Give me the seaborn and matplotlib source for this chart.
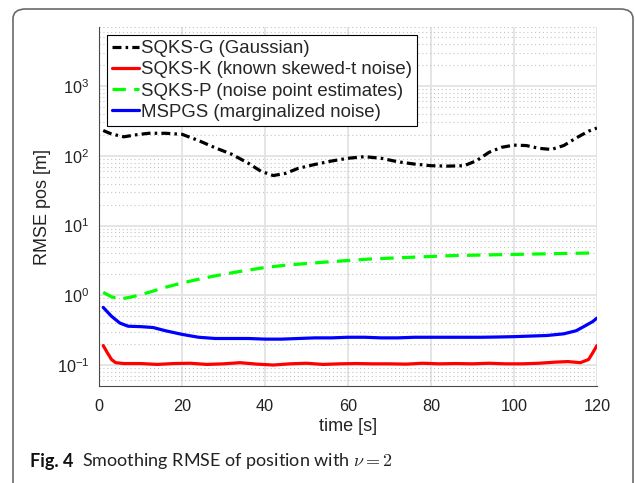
import numpy as np
import pandas as pd
import matplotlib
matplotlib.use("Agg")
import matplotlib.pyplot as plt
import seaborn as sns
from matplotlib.patches import FancyBboxPatch
from matplotlib.ticker import LogLocator, NullFormatter

# Values
t_g = [1, 3, 6, 9, 12, 16, 20, 24, 28, 32, 36, 39, 42, 45, 48, 52, 56, 60, 64, 68,
       72, 76, 80, 84, 88, 91, 94, 97, 100, 103, 106, 109, 112, 115, 118, 120]
rmse_g = [230, 205, 187, 200, 210, 210, 203, 165, 130, 105, 78, 60, 52, 56, 66, 75, 84, 92, 97, 92,
          82, 76, 72, 71, 72, 85, 112, 132, 142, 140, 128, 123, 140, 180, 225, 250]

t_k = [1, 2, 3, 4, 6, 10, 14, 18, 22, 26, 30, 34, 38, 42, 46, 50, 54, 58, 62, 66,
       70, 74, 78, 82, 86, 90, 94, 98, 102, 106, 110, 113, 116, 118, 119, 120]
rmse_k = [0.19, 0.15, 0.12, 0.108, 0.105, 0.105, 0.102, 0.105, 0.106, 0.102, 0.104, 0.108, 0.103, 0.1,
          0.104, 0.106, 0.102, 0.104, 0.105, 0.104, 0.104, 0.103, 0.106, 0.104, 0.105, 0.104, 0.106,
          0.104, 0.104, 0.106, 0.11, 0.112, 0.108, 0.12, 0.15, 0.19]

t_p = [1, 3, 5, 8, 12, 16, 20, 25, 30, 35, 40, 45, 50, 55, 60, 65, 70, 75, 80, 85,
       90, 95, 100, 105, 110, 115, 120]
rmse_p = [1.1, 0.95, 0.88, 0.95, 1.1, 1.3, 1.5, 1.75, 2.0, 2.25, 2.5, 2.7, 2.85, 3.0, 3.15, 3.3,
          3.4, 3.5, 3.6, 3.7, 3.75, 3.8, 3.85, 3.9, 3.95, 4.0, 4.05]

t_m = [1, 3, 5, 7, 10, 13, 16, 20, 24, 28, 32, 36, 40, 44, 48, 52, 56, 60, 64, 68,
       72, 76, 80, 84, 88, 92, 96, 100, 104, 108, 112, 115, 117, 119, 120]
rmse_m = [0.67, 0.5, 0.4, 0.36, 0.355, 0.345, 0.31, 0.275, 0.25, 0.24, 0.24, 0.24, 0.235, 0.235,
          0.24, 0.245, 0.245, 0.25, 0.25, 0.245, 0.245, 0.25, 0.25, 0.25, 0.25, 0.25, 0.252, 0.255,
          0.26, 0.265, 0.28, 0.31, 0.36, 0.42, 0.47]

labels = ['SQKS-G (Gaussian)', 'SQKS-K (known skewed-t noise)',
          'SQKS-P (noise point estimates)', 'MSPGS (marginalized noise)']

sns.set_style("white")
plt.rcParams['font.family'] = ['Liberation Sans', 'DejaVu Sans']
plt.rcParams['mathtext.fontset'] = 'custom'
plt.rcParams['mathtext.rm'] = 'Liberation Sans'
plt.rcParams['mathtext.it'] = 'Liberation Sans:italic'

fig = plt.figure(figsize=(6.35, 4.83), dpi=100)
ax = fig.add_axes([0.156, 0.2008, 0.784, 0.7432])

# frame around the figure like the journal layout
box = FancyBboxPatch((13 / 635, -0.05), 620 / 635, 1 - 9 / 483 + 0.05,
                     boxstyle="round,pad=0,rounding_size=0.02",
                     transform=fig.transFigure, fill=False,
                     edgecolor='#6a6a6a', linewidth=1.2)
fig.patches.append(box)

lw = 2.3
sns.lineplot(x=t_g, y=rmse_g, ax=ax, color='black', lw=lw, label=labels[0],
             linestyle=(0, (2.8, 1.3, 0.8, 1.3)))
sns.lineplot(x=t_k, y=rmse_k, ax=ax, color='#ff0000', lw=lw, label=labels[1])
sns.lineplot(x=t_p, y=rmse_p, ax=ax, color='#00ff00', lw=lw, label=labels[2],
             linestyle=(0, (4.2, 2.6)))
sns.lineplot(x=t_m, y=rmse_m, ax=ax, color='#0000ff', lw=lw, label=labels[3])

ax.set_yscale('log')
ax.set_xlim(0, 120)
ax.set_ylim(0.05, 7000)
ax.set_xticks([0, 20, 40, 60, 80, 100, 120])
ax.yaxis.set_major_locator(LogLocator(base=10, numticks=10))
ax.yaxis.set_minor_locator(LogLocator(base=10, subs=np.arange(2, 10), numticks=20))
ax.yaxis.set_minor_formatter(NullFormatter())

ax.grid(True, which='major', color='#e3e3e3', lw=1.3)
ax.grid(True, which='minor', axis='y', color='#c4c4c4', lw=0.8, linestyle=(0, (1, 2.5)))
ax.set_axisbelow(True)

for s in ['top', 'right']:
    ax.spines[s].set_visible(False)
for s in ['left', 'bottom']:
    ax.spines[s].set_color('#4a4a4a')
    ax.spines[s].set_linewidth(0.8)

ax.tick_params(which='major', direction='in', length=5, width=0.8, color='#4a4a4a',
               labelsize=11.7, labelcolor='#222222', pad=7)
ax.tick_params(which='minor', direction='in', length=3, width=0.6, color='#4a4a4a')
ax.tick_params(axis='x', pad=9)

ax.set_xlabel('time [s]', fontsize=13, color='#222222', labelpad=3)
ax.set_ylabel('RMSE pos [m]', fontsize=13, color='#222222', labelpad=4)

leg = ax.legend(loc='upper left', bbox_to_anchor=(0.016, 0.977), borderaxespad=0,
                fontsize=13.4, frameon=True, fancybox=False, edgecolor='black',
                framealpha=1, handlelength=1.45, handletextpad=0.12, labelspacing=0.22,
                borderpad=0.27)
leg.get_frame().set_linewidth(0.8)

cap_y = 1 - 461 / 483
fig.text(30 / 635, cap_y, 'Fig. 4', fontsize=13, fontweight='bold',
         family=['Lato', 'DejaVu Sans'], va='center', ha='left', color='#111111')
fig.text(82 / 635, cap_y, r'Smoothing RMSE of position with $\nu = 2$', fontsize=13,
         family=['Lato', 'DejaVu Sans'], math_fontfamily='cm',
         va='center', ha='left', color='#222222')

fig.savefig('out.png', dpi=100)
